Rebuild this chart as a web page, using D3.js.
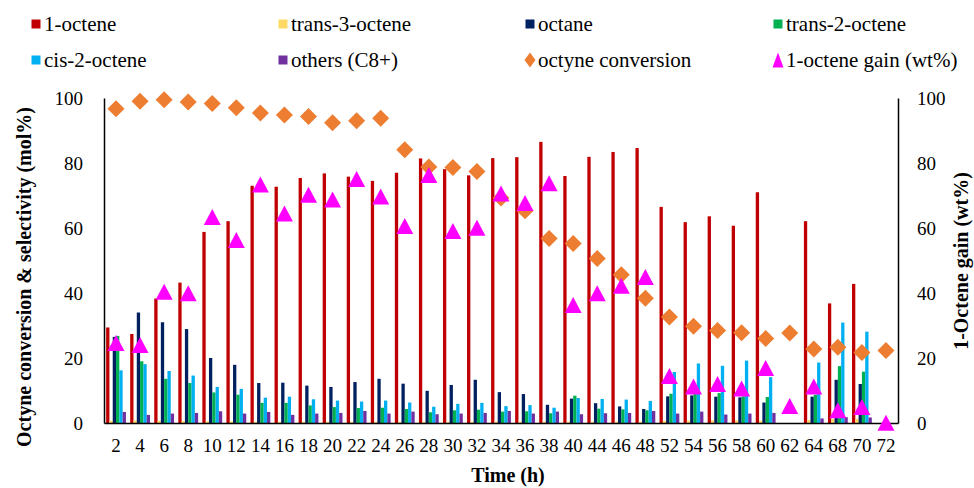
<!DOCTYPE html>
<html>
<head>
<meta charset="utf-8">
<script src="https://cdn.jsdelivr.net/npm/d3@7"></script>
<style>
	body{margin:0;background:#fff;}
	svg{display:block;font-family:"Liberation Serif","Times New Roman",serif;}
	.axis path{stroke:#000;stroke-width:1.5px;}
	.axis text{font-size:19px;fill:#000;font-family:"Liberation Serif","Times New Roman",serif;}
	.title{font-size:20px;font-weight:bold;}
	.legend text{font-size:21px;}
</style>
</head>
<body>
<div id="chart"></div>
<script>
//Data
const times = [2,4,6,8,10,12,14,16,18,20,22,24,26,28,30,32,34,36,38,40,44,46,48,52,54,56,58,60,62,64,68,70,72];

const octene1 = [29.4,27.4,38.3,43.2,58.8,62.1,73.0,72.7,75.4,76.8,75.8,74.5,77.0,81.4,78.1,76.2,81.5,81.8,86.5,76.0,81.9,83.4,84.6,66.5,61.8,63.6,60.7,71.0,0,62.1,36.8,42.8,0];
const trans3 = [0.7,0.8,0.7,0.6,0.5,0.5,0.4,0.4,0.4,0.4,0.4,0.4,0.4,0.4,0.4,0.4,0.4,0.4,0.4,0.4,0.4,0.4,0.4,0.6,0.7,0.8,0.8,0.7,0,0.9,1.2,1.3,0];
const octane = [26.5,34.0,31.0,28.9,20.0,17.9,12.3,12.4,11.5,11.1,12.6,13.6,12.1,9.9,11.7,13.3,9.5,8.9,5.6,7.5,6.1,5.1,4.3,8.2,8.5,8.1,7.9,6.3,0,8.1,13.3,12.0,0];
const trans2 = [26.8,19.0,13.6,12.3,9.4,8.7,6.2,6.2,5.4,4.9,4.6,4.7,4.3,3.3,3.9,4.1,3.5,3.6,3.0,8.4,4.4,4.2,3.9,9.0,9.0,9.2,8.2,8.0,0,8.7,17.5,15.8,0];
const cis2 = [16.2,18.1,16.0,14.6,11.1,10.5,7.8,8.1,7.3,6.9,6.6,6.9,6.3,5.0,5.9,6.2,5.2,5.5,4.7,7.7,7.4,7.2,6.8,15.7,18.3,17.6,19.2,14.1,0,18.6,30.9,28.1,0];
const others = [3.4,2.5,2.9,3.1,3.6,2.9,3.4,2.5,2.9,3.1,3.7,2.9,3.5,2.7,2.9,3.1,3.7,2.9,3.5,2.7,3.0,3.1,3.7,2.9,3.5,2.6,2.9,3.1,0,1.4,1.8,1.7,0];

const conversion = [96.7,99.0,99.5,98.8,98.3,97.0,95.4,94.8,94.3,92.4,93.0,93.8,84.1,78.8,78.6,77.4,69.2,65.3,56.8,55.2,50.6,45.6,38.4,32.6,29.8,28.5,27.8,26.0,27.7,22.8,23.3,21.7,22.3];
const gain = [24.6,24.0,40.4,39.9,63.4,56.3,73.4,64.5,70.2,68.8,75.1,69.7,60.6,76.3,59.1,60.1,70.6,67.7,73.8,36.3,39.9,42.2,44.9,14.5,11.2,12.0,10.6,16.9,5.2,11.2,3.9,4.9,0.1];

const seriesNames = ['1-octene','trans-3-octene','octane','trans-2-octene','cis-2-octene','others (C8+)'];
const seriesValues = [octene1,trans3,octane,trans2,cis2,others];
const seriesColors = ['#C00000','#FFD966','#002060','#00B050','#00B0F0','#7030A0'];

const yTicks = [0,20,40,60,80,100];

const width = 974;
const height = 488;
const margin = {t:98,r:76,b:65,l:104};
const w = width - margin.l - margin.r;
const h = height - margin.t - margin.b;

const svg = d3.select('#chart').append('svg')
	.attr('width',width)
	.attr('height',height);

const plot = svg.append('g')
	.attr('transform',`translate(${margin.l},${margin.t})`);

//Scales
const scaleX = d3.scaleBand().domain(times).range([0,w]).paddingInner(0.177).paddingOuter(0.0885);
const scaleSeries = d3.scaleBand().domain(d3.range(seriesNames.length)).range([0,scaleX.bandwidth()]);
const scaleY = d3.scaleLinear().domain([0,100]).range([h,0]);
const scaleY2 = d3.scaleLinear().domain([0,100]).range([h,0]);

//Bars
const rows = times.map((t,i) => ({t, values: seriesValues.map((s,k) => ({k, v:s[i]}))}));
plot.selectAll('.group')
	.data(rows)
	.enter().append('g')
	.attr('class','group')
	.attr('transform', d => `translate(${scaleX(d.t)},0)`)
	.selectAll('rect')
	.data(d => d.values)
	.enter().append('rect')
	.attr('x', d => scaleSeries(d.k))
	.attr('width', scaleSeries.bandwidth())
	.attr('y', d => scaleY(d.v))
	.attr('height', d => h - scaleY(d.v))
	.style('fill', d => seriesColors[d.k]);

//Axes
const axisX = d3.axisBottom(scaleX).tickSize(0).tickPadding(16);
const axisY = d3.axisLeft(scaleY).tickValues(yTicks).tickSize(0).tickPadding(21);
const axisY2 = d3.axisRight(scaleY2).tickValues(yTicks).tickSize(0).tickPadding(19);

plot.append('g').attr('class','axis axis-y').call(axisY);
plot.append('g').attr('class','axis axis-y2').attr('transform',`translate(${w},0)`).call(axisY2);
plot.append('g').attr('class','axis axis-x').attr('transform',`translate(0,${h})`).call(axisX);
plot.selectAll('.axis .domain').attr('stroke','#000');

//Markers
const cx = t => scaleX(t) + scaleX.bandwidth()/2;
const diamond = (dw,dh) => `M0,${-dh/2}L${dw/2},0L0,${dh/2}L${-dw/2},0Z`;
const triangle = (tw,th) => `M0,${-th/2}L${tw/2},${th/2}L${-tw/2},${th/2}Z`;

plot.selectAll('.conv')
	.data(times.map((t,i) => ({t, v:conversion[i]})))
	.enter().append('path')
	.attr('class','conv')
	.attr('d', diamond(17,17))
	.attr('transform', d => `translate(${cx(d.t)},${scaleY(d.v)})`)
	.style('fill','#ED7D31');

plot.selectAll('.gain')
	.data(times.map((t,i) => ({t, v:gain[i]})))
	.enter().append('path')
	.attr('class','gain')
	.attr('d', triangle(17,16))
	.attr('transform', d => `translate(${cx(d.t)},${scaleY2(d.v)})`)
	.style('fill','#FF00FF');

//Titles
svg.append('text').attr('class','title')
	.attr('transform','translate(24,277) rotate(-90)')
	.attr('text-anchor','middle').attr('dominant-baseline','central')
	.text('Octyne conversion & selectivity (mol%)');
svg.append('text').attr('class','title')
	.attr('transform','translate(961,261) rotate(-90)')
	.attr('text-anchor','middle').attr('dominant-baseline','central')
	.text('1-Octene gain (wt%)');
svg.append('text').attr('class','title')
	.attr('x',508).attr('y',475)
	.attr('text-anchor','middle').attr('dominant-baseline','central')
	.text('Time (h)');

//Legend
const legendItems = [
	{name:'1-octene', type:'rect', color:seriesColors[0]},
	{name:'trans-3-octene', type:'rect', color:seriesColors[1]},
	{name:'octane', type:'rect', color:seriesColors[2]},
	{name:'trans-2-octene', type:'rect', color:seriesColors[3]},
	{name:'cis-2-octene', type:'rect', color:seriesColors[4]},
	{name:'others (C8+)', type:'rect', color:seriesColors[5]},
	{name:'octyne conversion', type:'diamond', color:'#ED7D31'},
	{name:'1-octene gain (wt%)', type:'triangle', color:'#FF00FF'}
];
const legendX = [36,283,530,778];
const legendY = [24,60];

const legend = svg.append('g').attr('class','legend')
	.selectAll('g')
	.data(legendItems)
	.enter().append('g')
	.attr('transform', (d,i) => `translate(${legendX[i%4]},${legendY[Math.floor(i/4)]})`);

legend.filter(d => d.type === 'rect').append('rect')
	.attr('x',-4.5).attr('y',-4.5).attr('width',9).attr('height',9)
	.style('fill', d => d.color);
legend.filter(d => d.type === 'diamond').append('path')
	.attr('d', diamond(11,15))
	.style('fill', d => d.color);
legend.filter(d => d.type === 'triangle').append('path')
	.attr('d', triangle(11,15))
	.style('fill', d => d.color);
legend.append('text')
	.attr('x',8)
	.attr('dominant-baseline','central')
	.text(d => d.name);
</script>
</body>
</html>
